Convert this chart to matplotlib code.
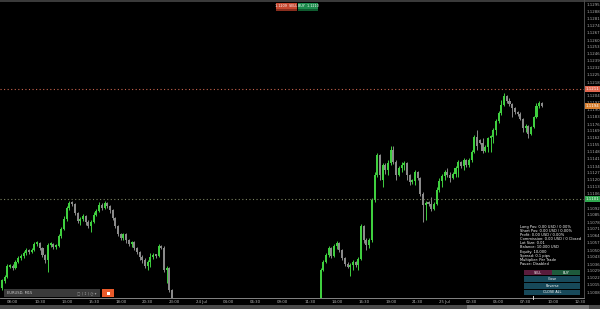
import matplotlib
matplotlib.use("Agg")
import matplotlib.pyplot as plt
import numpy as np
from matplotlib.patches import Rectangle

# ---------------- data ----------------
open1 = [1.1012,1.1019,1.1023,1.1033,1.1034,1.1032,1.1038,1.1042,1.1044,1.1047,
         1.1050,1.1048,1.1050,1.1056,1.1057,1.1052,1.1045,1.1040,1.1055,1.1056,
         1.1053,1.1054,1.1064,1.1071,1.1081,1.1092,1.1097,1.1096,1.1087,1.1079,
         1.1081,1.1084,1.1078,1.1074,1.1078,1.1085,1.1089,1.1095,1.1092,1.1097,
         1.1094,1.1090,1.1082,1.1074,1.1066,1.1062,1.1066,1.1060,1.1056,1.1058,
         1.1052,1.1048,1.1043,1.1040,1.1034,1.1038,1.1043,1.1045,1.1044,1.1054,
         1.1052,1.1030,1.1032,1.1010]
high1 = [1.1021,1.1025,1.1036,1.1036,1.1036,1.1040,1.1044,1.1046,1.1049,1.1052,
         1.1051,1.1052,1.1058,1.1059,1.1058,1.1053,1.1046,1.1057,1.1058,1.1057,
         1.1056,1.1066,1.1073,1.1084,1.1094,1.1099,1.1099,1.1097,1.1088,1.1083,
         1.1086,1.1085,1.1080,1.1080,1.1088,1.1091,1.1098,1.1097,1.1099,1.1098,
         1.1095,1.1091,1.1083,1.1075,1.1067,1.1067,1.1067,1.1061,1.1059,1.1059,
         1.1053,1.1049,1.1045,1.1042,1.1040,1.1047,1.1047,1.1046,1.1056,1.1055,
         1.1054,1.1034,1.1033,1.1011]
low1 = [1.1010,1.1017,1.1022,1.1032,1.1030,1.1031,1.1037,1.1040,1.1042,1.1045,
        1.1046,1.1047,1.1049,1.1054,1.1050,1.1043,1.1037,1.1028,1.1053,1.1051,
        1.1051,1.1053,1.1062,1.1070,1.1079,1.1090,1.1094,1.1085,1.1077,1.1075,
        1.1079,1.1075,1.1072,1.1068,1.1077,1.1084,1.1088,1.1090,1.1091,1.1092,
        1.1087,1.1080,1.1072,1.1064,1.1060,1.1060,1.1057,1.1054,1.1053,1.1050,
        1.1046,1.1040,1.1037,1.1032,1.1030,1.1033,1.1041,1.1042,1.1043,1.1051,
        1.1028,1.1017,1.1008,1.0995]
close1 = [1.1020,1.1023,1.1034,1.1034,1.1032,1.1038,1.1042,1.1044,1.1047,1.1050,
          1.1048,1.1050,1.1056,1.1057,1.1052,1.1045,1.1040,1.1055,1.1056,1.1053,
          1.1054,1.1064,1.1071,1.1081,1.1092,1.1097,1.1096,1.1087,1.1079,1.1081,
          1.1084,1.1078,1.1074,1.1078,1.1085,1.1089,1.1095,1.1092,1.1097,1.1094,
          1.1090,1.1082,1.1074,1.1066,1.1062,1.1066,1.1060,1.1056,1.1058,1.1052,
          1.1048,1.1043,1.1040,1.1034,1.1038,1.1043,1.1045,1.1044,1.1054,1.1052,
          1.1030,1.1032,1.1010,1.1000]

open2 = [1.1000,1.1030,1.1038,1.1045,1.1052,1.1044,1.1054,1.1057,1.1050,1.1042,
         1.1036,1.1033,1.1035,1.1038,1.1035,1.1041,1.1074,1.1060,1.1055,1.1060,
         1.1100,1.1125,1.1145,1.1120,1.1135,1.1130,1.1137,1.1150,1.1138,1.1125,
         1.1132,1.1135,1.1137,1.1125,1.1118,1.1119,1.1128,1.1122,1.1106,1.1095,
         1.1097,1.1096,1.1091,1.1096,1.1110,1.1119,1.1124,1.1128,1.1125,1.1122,
         1.1126,1.1132,1.1138,1.1134,1.1140,1.1135,1.1140,1.1148,1.1163,1.1160,
         1.1157,1.1149,1.1153,1.1162,1.1163,1.1170,1.1179,1.1187,1.1195,1.1204,
         1.1199,1.1196,1.1192,1.1188,1.1186,1.1181,1.1172,1.1174,1.1166,1.1173,
         1.1183,1.1194,1.1197]
high2 = [1.1032,1.1040,1.1047,1.1054,1.1053,1.1056,1.1059,1.1058,1.1051,1.1043,
         1.1038,1.1037,1.1040,1.1039,1.1043,1.1076,1.1075,1.1062,1.1062,1.1102,
         1.1128,1.1147,1.1146,1.1137,1.1137,1.1140,1.1154,1.1154,1.1140,1.1134,
         1.1138,1.1139,1.1138,1.1126,1.1121,1.1130,1.1129,1.1123,1.1108,1.1099,
         1.1099,1.1103,1.1098,1.1113,1.1122,1.1126,1.1130,1.1132,1.1128,1.1128,
         1.1134,1.1140,1.1139,1.1142,1.1141,1.1142,1.1150,1.1165,1.1170,1.1161,
         1.1162,1.1155,1.1163,1.1165,1.1172,1.1181,1.1189,1.1200,1.1207,1.1205,
         1.1202,1.1197,1.1193,1.1189,1.1188,1.1182,1.1176,1.1175,1.1174,1.1184,
         1.1197,1.1199,1.1198]
low2 = [1.0995,1.1029,1.1037,1.1043,1.1042,1.1043,1.1051,1.1048,1.1040,1.1034,
        1.1032,1.1024,1.1030,1.1033,1.1030,1.1040,1.1057,1.1050,1.1052,1.1058,
        1.1098,1.1123,1.1120,1.1113,1.1126,1.1125,1.1135,1.1136,1.1120,1.1124,
        1.1128,1.1130,1.1120,1.1115,1.1116,1.1115,1.1120,1.1104,1.1078,1.1080,
        1.1094,1.1089,1.1090,1.1095,1.1108,1.1113,1.1120,1.1123,1.1118,1.1121,
        1.1123,1.1123,1.1132,1.1130,1.1133,1.1133,1.1138,1.1147,1.1150,1.1156,
        1.1147,1.1148,1.1148,1.1148,1.1157,1.1165,1.1177,1.1185,1.1194,1.1197,
        1.1194,1.1183,1.1186,1.1184,1.1180,1.1168,1.1168,1.1162,1.1165,1.1172,
        1.1182,1.1192,1.1193]
close2 = [1.1030,1.1038,1.1045,1.1052,1.1044,1.1054,1.1057,1.1050,1.1042,1.1036,
          1.1033,1.1035,1.1038,1.1035,1.1041,1.1074,1.1060,1.1055,1.1060,1.1100,
          1.1125,1.1145,1.1125,1.1135,1.1130,1.1137,1.1150,1.1138,1.1125,1.1132,
          1.1135,1.1137,1.1125,1.1118,1.1119,1.1128,1.1122,1.1106,1.1095,1.1097,
          1.1096,1.1091,1.1096,1.1110,1.1119,1.1124,1.1128,1.1125,1.1122,1.1126,
          1.1132,1.1138,1.1134,1.1140,1.1135,1.1140,1.1148,1.1163,1.1154,1.1157,
          1.1149,1.1153,1.1162,1.1163,1.1170,1.1179,1.1187,1.1195,1.1204,1.1199,
          1.1196,1.1192,1.1188,1.1186,1.1181,1.1172,1.1174,1.1166,1.1173,1.1183,
          1.1194,1.1197,1.1194]

seg2_start = 118          # bar index where the second visible run begins
level_sell = 1.1211       # upper dotted level (red)
level_buy = 1.1101        # lower dotted level (green)
last_price = 1.1194

time_labels = ['08:00', '10:30', '13:00', '15:30', '18:00', '20:30', '23:00', '24 Jul',
               '04:00', '06:30', '09:00', '11:30', '14:00', '16:30', '19:00', '21:30',
               '25 Jul', '02:30', '05:00', '07:30', '10:00', '12:30']

info_lines = ['Long Pos: 0.00 USD / 0.00%', 'Short Pos: 0.00 USD / 0.00%',
              'Profit: 0.00 USD / 0.00%', 'Commission: 0.00 USD / 0 Closed',
              'Lot Size: 0.01', 'Balance: 10,000 USD', 'Equity: 10,000',
              'Spread: 0.1 pips', 'Multiplier: Per Trade', 'Pause: Disabled']

# ---------------- figure ----------------
W, H = 600, 309
fig = plt.figure(figsize=(6.0, 3.09), dpi=100, facecolor='black')
ax = fig.add_axes([0, 11 / H, 584 / W, 298 / H])
ax.set_facecolor('black')

o = np.array(open1 + open2); h = np.array(high1 + high2)
l = np.array(low1 + low2); c = np.array(close1 + close2)
x = np.concatenate([np.arange(len(open1)), seg2_start + np.arange(len(open2))])

up = c >= o
col = np.where(up, '#3fcf3f', '#8a8a8a')
ax.vlines(x, l, h, colors=col, linewidth=0.7)
body = np.maximum(np.abs(c - o), 0.00015)
ax.bar(x, body, bottom=np.minimum(o, c), width=0.75, color=col, linewidth=0)

ax.set_xlim(-0.74, 215.6)
ax.set_ylim(1.1002, 1.1300)

ax.axhline(level_sell, color='#c8644e', linewidth=0.8, linestyle=(0, (1, 2.2)))
ax.axhline(level_buy, color='#7d8462', linewidth=0.8, linestyle=(0, (1, 2.2)))

# axes styling
for s in ['top', 'left', 'right']:
    ax.spines[s].set_visible(False)
ax.spines['bottom'].set_color('#9a9a9a')
ax.spines['bottom'].set_linewidth(0.6)
ax.yaxis.tick_right()
yt = np.round(np.arange(1.1295, 1.1003, -0.0007), 4)
ax.set_yticks(yt)
ax.set_yticklabels([f'{v:.4f}' for v in yt])
ax.tick_params(axis='y', length=0, pad=1.5, labelsize=2.8, labelcolor='#b0b0b0')
ax.set_xticks(np.arange(4, 215, 10))
ax.set_xticklabels(time_labels)
ax.tick_params(axis='x', length=0, pad=1.2, labelsize=2.8, labelcolor='#b8b8b8')

# price label boxes on the right axis
ytr = ax.get_yaxis_transform()
for price, fc in [(level_sell, '#e0664e'), (last_price, '#d98030'), (level_buy, '#2fa84f')]:
    ax.text(1.003, price, f'{price:.4f}', transform=ytr, fontsize=2.8, color='white',
            va='center', ha='left', clip_on=False,
            bbox=dict(boxstyle='square,pad=0.25', fc=fc, ec='none'))

# ---------------- overlays (pixel coords) ----------------
def rect(x0, y0, w, hgt, fc, z=5):
    fig.patches.append(Rectangle((x0 / W, 1 - (y0 + hgt) / H), w / W, hgt / H,
                                 transform=fig.transFigure, facecolor=fc,
                                 edgecolor='none', zorder=z))

def ftext(xp, yp, s, size=2.8, color='white', ha='left'):
    fig.text(xp / W, 1 - yp / H, s, fontsize=size, color=color, ha=ha, va='center', zorder=10)

rect(0, 0, 600, 2, '#3a3a3a')
rect(584, 0, 1, 298, '#4a4a4a')
rect(0, 305, 600, 4, '#4a4a4a')
rect(467, 305, 122, 4, '#7a7a7a')

# top buy/sell buttons
rect(276, 3, 21, 7, '#c4472f'); rect(276, 9, 21, 1.5, '#8a2e1e')
ftext(286.5, 6, '1.1209  SELL', ha='center', size=2.4)
rect(298, 3, 20, 7, '#1d8a4c'); rect(298, 9, 20, 1.5, '#0f5c30')
ftext(308, 6, 'BUY  1.1210', ha='center', size=2.4)

# bottom-left toolbar
rect(4, 289, 96, 8, '#3a3a3a')
ftext(7, 293, 'EURUSD, M15', size=2.6, color='#cfcfcf')
ftext(97, 293, '\u25a2 | \u2195 | \u25f7 \u25be', size=2.6, color='#9a9a9a', ha='right')
rect(102, 289, 12, 8, '#e85a2a')
rect(106.5, 291.5, 3, 3, 'white', z=6)

# info panel
for i, line in enumerate(info_lines):
    ftext(520, 227 + i * 4.1, line, size=2.6)
rect(524, 270, 28, 5, '#5a1c3c'); ftext(538, 272.5, 'SELL', ha='center', size=2.4)
rect(552, 270, 28, 5, '#1e5a3c'); ftext(566, 272.5, 'BUY', ha='center', size=2.4)
for yy, lab in [(276, 'Close'), (283, 'Reverse'), (289.5, 'CLOSE ALL')]:
    rect(524, yy, 56, 5.5, '#17495a')
    ftext(552, yy + 2.75, lab, ha='center', size=2.4)
rect(533, 296, 0.8, 4, '#d0d0d0', z=6)

fig.savefig('out.png', dpi=100, facecolor='black')
